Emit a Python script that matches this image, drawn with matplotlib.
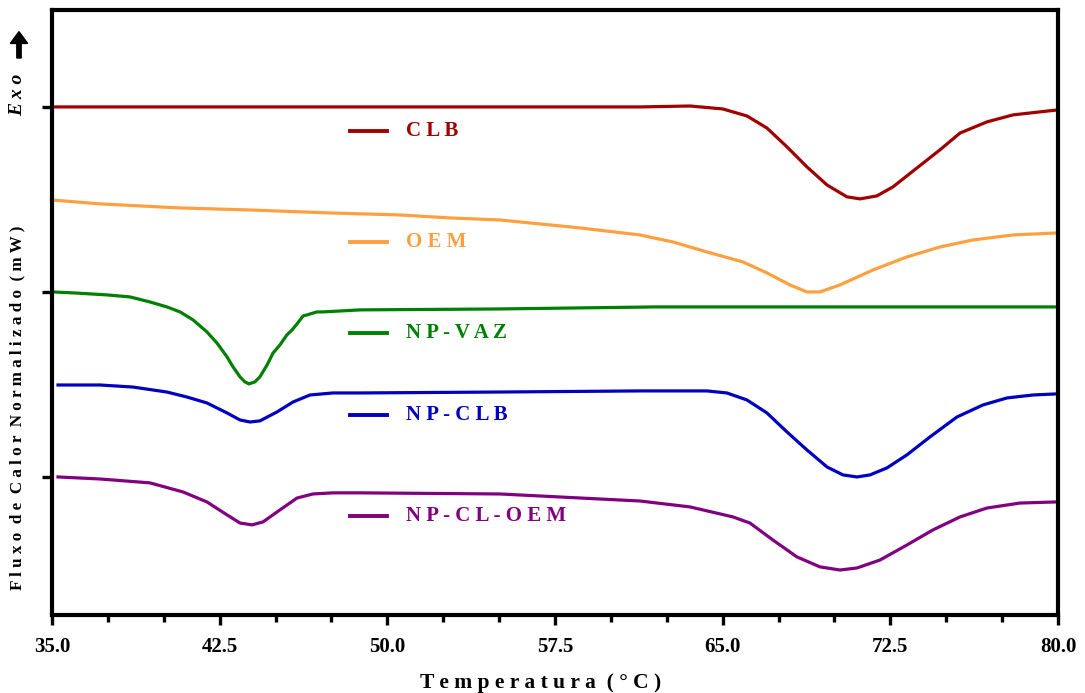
import matplotlib.pyplot as plt
from matplotlib.lines import Line2D
from matplotlib.patches import FancyArrow
from matplotlib.ticker import MultipleLocator, NullFormatter
import numpy as np

# --- data (temperature in °C, normalised heat flow, offset curves) ---
clb_t = [35.0, 50.0, 61.30, 63.54, 65.01, 66.09, 66.98, 67.88, 68.77, 69.67, 70.56, 71.14,
         71.90, 72.62, 73.69, 74.72, 75.62, 76.82, 77.99, 80.0]
clb_y = [2.0, 2.0, 2.0, 2.005, 1.989, 1.951, 1.886, 1.784, 1.676, 1.578, 1.514, 1.503,
         1.519, 1.568, 1.670, 1.768, 1.859, 1.919, 1.957, 1.984]

oem_t = [35.0, 37.15, 40.73, 43.86, 47.43, 50.57, 52.80, 55.04, 58.62, 61.30, 62.78, 64.30,
         65.91, 66.98, 68.01, 68.77, 69.35, 70.25, 71.73, 73.24, 74.72, 76.20, 77.99, 80.0]
oem_y = [1.497, 1.476, 1.454, 1.443, 1.427, 1.416, 1.400, 1.389, 1.346, 1.308, 1.270, 1.216,
         1.162, 1.103, 1.038, 1.000, 1.000, 1.038, 1.119, 1.189, 1.243, 1.281, 1.308, 1.319]

vaz_t = [35.0, 35.94, 37.46, 38.49, 39.38, 40.14, 40.73, 41.31, 41.93, 42.38, 42.83, 43.10,
         43.41, 43.63, 43.81, 44.08, 44.30, 44.62, 44.89, 45.20, 45.51, 45.74, 45.96, 46.23,
         46.41, 46.85, 47.12, 47.88, 48.78, 55.0, 62.0, 70.0, 80.0]
vaz_y = [1.0, 0.995, 0.984, 0.973, 0.946, 0.919, 0.892, 0.849, 0.784, 0.724, 0.649, 0.595,
         0.541, 0.514, 0.503, 0.514, 0.541, 0.605, 0.670, 0.714, 0.768, 0.795, 0.827, 0.870,
         0.876, 0.892, 0.892, 0.897, 0.903, 0.908, 0.919, 0.919, 0.919]

npclb_t = [35.27, 37.15, 38.62, 40.14, 41.04, 41.93, 42.83, 43.41, 43.86, 44.30, 45.06, 45.78,
           46.54, 47.57, 48.78, 55.0, 61.30, 64.30, 65.19, 66.09, 66.98, 67.88, 68.77, 69.67,
           70.38, 71.01, 71.59, 72.35, 73.24, 74.27, 75.48, 76.64, 77.72, 78.88, 79.95]
npclb_y = [0.497, 0.497, 0.486, 0.459, 0.432, 0.400, 0.346, 0.308, 0.297, 0.303, 0.351, 0.405,
           0.443, 0.454, 0.454, 0.459, 0.465, 0.465, 0.454, 0.416, 0.346, 0.243, 0.146, 0.054,
           0.011, 0.0, 0.011, 0.049, 0.119, 0.216, 0.324, 0.389, 0.427, 0.443, 0.449]

npcloem_t = [35.27, 37.15, 39.38, 40.86, 41.93, 42.83, 43.41, 43.95, 44.44, 45.20, 45.96, 46.67,
             47.57, 48.78, 55.04, 61.30, 63.54, 65.46, 66.22, 67.25, 68.32, 69.35, 70.25, 71.01,
             72.04, 73.24, 74.41, 75.62, 76.82, 78.30, 79.95]
npcloem_y = [0.0, -0.011, -0.032, -0.081, -0.135, -0.205, -0.249, -0.259, -0.243, -0.178, -0.114,
             -0.092, -0.086, -0.086, -0.092, -0.130, -0.162, -0.216, -0.249, -0.341, -0.432,
             -0.486, -0.503, -0.492, -0.449, -0.368, -0.286, -0.216, -0.168, -0.141, -0.135]

labels = ['C L B', 'O E M', 'N P - V A Z', 'N P - C L B', 'N P - C L - O E M']
colors = ['#A00000', '#FFA040', '#008000', '#0000C0', '#800080']
series = [(clb_t, clb_y), (oem_t, oem_y), (vaz_t, vaz_y), (npclb_t, npclb_y), (npcloem_t, npcloem_y)]

# --- figure ---
plt.rcParams['font.family'] = ['Liberation Serif', 'DejaVu Serif']
fig = plt.figure(figsize=(10.85, 6.93), dpi=100)
ax = fig.add_axes([0.0479, 0.1126, 0.9272, 0.8730])

for (t, y), c in zip(series, colors):
    ax.plot(t, y, color=c, lw=2.3, solid_joinstyle='round')

ax.set_xlim(35, 80)
ax.set_ylim(-0.746, 2.524)
ax.xaxis.set_minor_locator(MultipleLocator(2.5))
ax.set_yticks([0, 1, 2])
ax.yaxis.set_major_formatter(NullFormatter())
xt = np.arange(35, 80.1, 7.5)
ax.set_xticks(xt)
ax.set_xticklabels([f'{v:.1f}' for v in xt], fontsize=15, fontweight='bold')
ax.tick_params(axis='both', which='major', direction='out', length=7, width=2.4, pad=9)
ax.tick_params(axis='x', which='minor', direction='out', length=5, width=2.4)
for s in ax.spines.values():
    s.set_linewidth(3)

# inline legend: short line + coloured label
leg_y = [0.800, 0.6165, 0.466, 0.3306, 0.1636]
for lab, c, yy in zip(labels, colors, leg_y):
    ax.add_line(Line2D([0.296, 0.333], [yy, yy], transform=ax.transAxes, color=c, lw=2.8))
    ax.text(0.352, yy, lab, transform=ax.transAxes, color=c, fontsize=15,
            fontweight='bold', va='center', ha='left')

# axis titles
fig.text(0.4986, 0.0, 'T e m p e r a t u r a  ( ° C )', ha='center', va='bottom',
         fontsize=15.5, fontweight='bold')
fig.text(0.016, 0.149, 'F l u x o  d e  C a l o r  N o r m a l i z a d o  ( m W )',
         rotation=90, ha='center', va='bottom', fontsize=12.3, fontweight='bold')
fig.text(0.016, 1 - 116 / 693, 'E x o', rotation=90, ha='center', va='bottom',
         fontsize=14, fontweight='bold', style='italic')
fig.patches.append(FancyArrow(
    0.0175, 1 - 58 / 693, 0, 0.038, width=0.004, head_width=0.016, head_length=0.017,
    transform=fig.transFigure, color='black', length_includes_head=True))

fig.savefig('out.png', dpi=100)
